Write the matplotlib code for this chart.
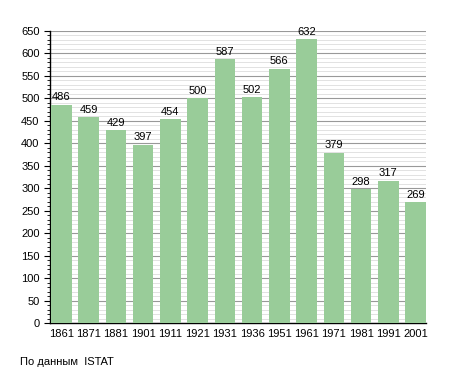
import matplotlib.pyplot as plt
from matplotlib.ticker import MultipleLocator

years = ["1861", "1871", "1881", "1901", "1911", "1921", "1931",
         "1936", "1951", "1961", "1971", "1981", "1991", "2001"]
population = [486, 459, 429, 397, 454, 500, 587, 502, 566, 632, 379, 298, 317, 269]

plt.rcParams["font.family"] = ["Liberation Sans", "DejaVu Sans"]

fig = plt.figure(figsize=(4.55, 3.73), dpi=100)
ax = fig.add_axes([50 / 455, 1 - 323 / 373, 376 / 455, 292 / 373])

bar_w = 0.755
x = list(range(len(years)))
bars = ax.bar(x, population, width=bar_w, align="edge", color="#99cc99", zorder=3)

for b, v in zip(bars, population):
    ax.text(b.get_x() + b.get_width() / 2, v + 5, str(v),
            ha="center", va="bottom", fontsize=8, zorder=4)

ax.set_xlim(-0.037, 13.76)
ax.set_ylim(0, 650)
ax.set_xticks([i + bar_w / 2 for i in x])
ax.set_xticklabels(years, fontsize=8)
ax.yaxis.set_major_locator(MultipleLocator(50))
ax.yaxis.set_minor_locator(MultipleLocator(10))
ax.tick_params(axis="y", which="major", labelsize=8, length=4, width=0.8)
ax.tick_params(axis="y", which="minor", length=2, width=0.6)
ax.tick_params(axis="x", length=0, pad=4)

ax.grid(axis="y", which="major", color="#999999", linewidth=0.8, zorder=0)
ax.grid(axis="y", which="minor", color="#dddddd", linewidth=0.6, zorder=0)
ax.set_axisbelow(True)

for side in ("top", "right"):
    ax.spines[side].set_visible(False)
ax.spines["left"].set_linewidth(1.0)
ax.spines["bottom"].set_linewidth(1.0)

fig.text(20 / 455, 1 - 362 / 373, "По данным  ISTAT", fontsize=8, va="center")

fig.savefig("out.png", dpi=100)
